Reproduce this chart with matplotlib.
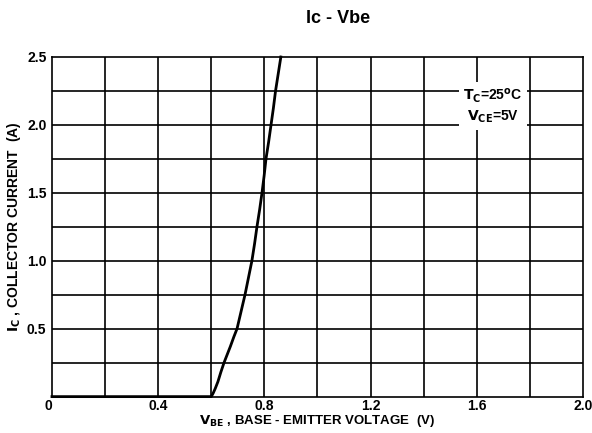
import numpy as np
import matplotlib.pyplot as plt

plt.rcParams['font.family'] = ['Liberation Sans', 'DejaVu Sans']

# curve
vbe = [0.0, 0.60, 0.607, 0.615, 0.625, 0.636, 0.648, 0.660, 0.672, 0.685, 0.697, 0.712, 0.727, 0.740,
       0.753, 0.763, 0.772, 0.782, 0.791, 0.799, 0.806, 0.816, 0.825, 0.834, 0.842, 0.852, 0.862]
ic  = [0.0, 0.0, 0.025, 0.06, 0.11, 0.18, 0.25, 0.31, 0.37, 0.44, 0.50, 0.625, 0.75, 0.875,
       1.00, 1.125, 1.25, 1.375, 1.50, 1.625, 1.75, 1.875, 2.00, 2.125, 2.25, 2.375, 2.50]

xticks = [0, 0.4, 0.8, 1.2, 1.6, 2.0]
xtick_labels = ['0', '0.4', '0.8', '1.2', '1.6', '2.0']
yticks = [0.5, 1.0, 1.5, 2.0, 2.5]
ytick_labels = ['0.5', '1.0', '1.5', '2.0', '2.5']

fig = plt.figure(figsize=(5.92, 4.33), dpi=100)
ax = fig.add_axes([0.0878, 0.084, 0.897, 0.7844])

ax.set_xlim(0, 2.0)
ax.set_ylim(0, 2.5)

# grid
for x in np.arange(0.2, 2.0, 0.2):
    ax.axvline(x, color='black', linewidth=1.2, zorder=1)
for y in np.arange(0.25, 2.5, 0.25):
    ax.axhline(y, color='black', linewidth=1.2, zorder=1)
for s in ax.spines.values():
    s.set_linewidth(1.2)

ax.plot(vbe, ic, color='black', linewidth=2.0, zorder=3, clip_on=False)

ax.set_xticks(xticks)
ax.set_xticklabels(xtick_labels, fontsize=10, fontweight='bold')
ax.set_yticks(yticks)
ax.set_yticklabels(ytick_labels, fontsize=10, fontweight='bold')
ax.tick_params(axis='x', length=0, pad=2)
ax.tick_params(axis='y', length=0, pad=4)
ax.get_xticklabels()[0].set_horizontalalignment('right')

ax.text(0.83, 0.855, '$\\mathbf{T_C}$=25$^\\mathbf{o}$C\n$\\mathbf{V_{CE}}$=5V',
        transform=ax.transAxes, fontsize=10, fontweight='bold', ha='center', va='center',
        linespacing=1.3, zorder=4,
        bbox=dict(facecolor='white', edgecolor='none', pad=3))

ax.set_xlabel('$\\mathbf{V_{BE}}$ , BASE - EMITTER VOLTAGE  (V)', fontsize=9.5, fontweight='bold', labelpad=-0.5)
ax.set_ylabel('$\\mathbf{I_C}$ , COLLECTOR CURRENT  (A)', fontsize=10, fontweight='bold', labelpad=3)
fig.text(0.571, 0.957, 'Ic - Vbe', fontsize=13, fontweight='bold', ha='center', va='center')

fig.savefig('out.png', dpi=100)
